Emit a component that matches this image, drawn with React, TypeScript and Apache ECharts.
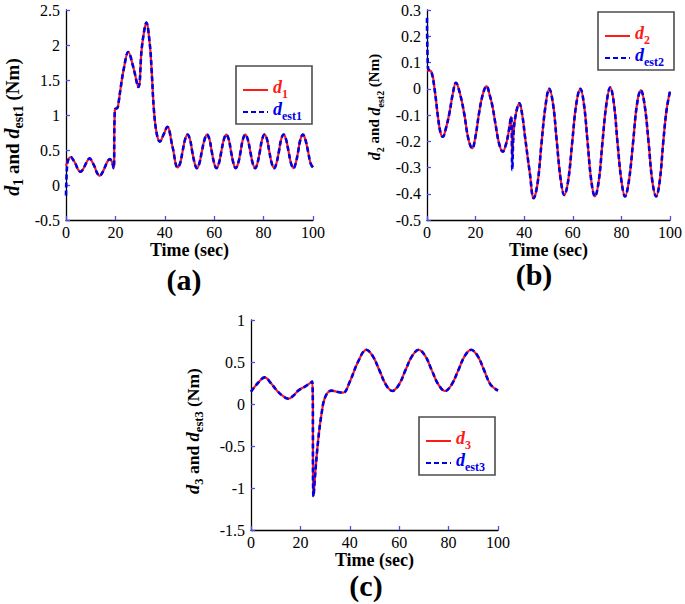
import React, { useEffect, useRef } from 'react';
import * as echarts from 'echarts';

// ---------- data ----------
// (a)
const timeA = [0, 1, 1.9, 2.9, 3.9, 4.9, 5.9, 6.8, 7.7, 8.7, 9.6, 10.6, 11.6, 12.6, 13.6, 14.6, 15.7, 16.7, 17.7, 18.6, 19.3, 19.8, 20.8, 21.3, 22.1, 23.5, 25.2, 27.2, 29.3, 30.6, 31.6, 32.5, 33.9, 34.7, 35.6, 36.7, 38.0, 39.5, 41.0, 43.1, 45.2, 46.2, 47.2, 48.2, 49.2, 50.2, 51.1, 52.1, 53.0, 54.0, 55.0, 56.1, 57.1, 58.1, 59.0, 60.0, 60.9, 61.9, 62.9, 63.9, 64.9, 65.9, 66.8, 67.8, 68.7, 69.7, 70.7, 71.6, 72.6, 73.6, 74.6, 75.6, 76.6, 77.5, 78.5, 79.4, 80.4, 81.4, 82.3, 83.3, 84.3, 85.2, 86.2, 87.1, 88.1, 89.1, 90.1, 91.1, 92.1, 93.0, 94.0, 94.9, 95.9, 96.9, 98.0, 99.0, 100];
const d1 = [0.27, 0.37, 0.40, 0.36, 0.30, 0.22, 0.19, 0.22, 0.28, 0.35, 0.38, 0.33, 0.26, 0.17, 0.13, 0.17, 0.25, 0.33, 0.37, 0.33, 0.24, 1.08, 1.10, 1.18, 1.38, 1.68, 1.90, 1.69, 1.40, 1.93, 2.19, 2.32, 2.02, 1.62, 1.07, 0.74, 0.62, 0.72, 0.83, 0.55, 0.25, 0.31, 0.48, 0.65, 0.72, 0.65, 0.48, 0.31, 0.24, 0.31, 0.48, 0.65, 0.72, 0.65, 0.48, 0.31, 0.24, 0.31, 0.48, 0.65, 0.72, 0.65, 0.48, 0.31, 0.24, 0.31, 0.48, 0.65, 0.72, 0.65, 0.48, 0.31, 0.24, 0.31, 0.48, 0.65, 0.72, 0.65, 0.48, 0.31, 0.24, 0.31, 0.48, 0.65, 0.72, 0.65, 0.48, 0.31, 0.24, 0.31, 0.48, 0.65, 0.72, 0.65, 0.48, 0.31, 0.25];
const timeEst1 = [0, 0.4, 1, 1.9, 2.9, 3.9, 4.9, 5.9, 6.8, 7.7, 8.7, 9.6, 10.6, 11.6, 12.6, 13.6, 14.6, 15.7, 16.7, 17.7, 18.6, 19.3, 19.8, 20.8, 21.3, 22.1, 23.5, 25.2, 27.2, 29.3, 30.6, 31.6, 32.5, 33.9, 34.7, 35.6, 36.7, 38.0, 39.5, 41.0, 43.1, 45.2, 46.2, 47.2, 48.2, 49.2, 50.2, 51.1, 52.1, 53.0, 54.0, 55.0, 56.1, 57.1, 58.1, 59.0, 60.0, 60.9, 61.9, 62.9, 63.9, 64.9, 65.9, 66.8, 67.8, 68.7, 69.7, 70.7, 71.6, 72.6, 73.6, 74.6, 75.6, 76.6, 77.5, 78.5, 79.4, 80.4, 81.4, 82.3, 83.3, 84.3, 85.2, 86.2, 87.1, 88.1, 89.1, 90.1, 91.1, 92.1, 93.0, 94.0, 94.9, 95.9, 96.9, 98.0, 99.0, 100];
const dEst1 = [-0.15, 0.25, 0.37, 0.40, 0.36, 0.30, 0.22, 0.19, 0.22, 0.28, 0.35, 0.38, 0.33, 0.26, 0.17, 0.13, 0.17, 0.25, 0.33, 0.37, 0.33, 0.24, 1.08, 1.10, 1.18, 1.38, 1.68, 1.90, 1.69, 1.40, 1.93, 2.19, 2.32, 2.02, 1.62, 1.07, 0.74, 0.62, 0.72, 0.83, 0.55, 0.25, 0.31, 0.48, 0.65, 0.72, 0.65, 0.48, 0.31, 0.24, 0.31, 0.48, 0.65, 0.72, 0.65, 0.48, 0.31, 0.24, 0.31, 0.48, 0.65, 0.72, 0.65, 0.48, 0.31, 0.24, 0.31, 0.48, 0.65, 0.72, 0.65, 0.48, 0.31, 0.24, 0.31, 0.48, 0.65, 0.72, 0.65, 0.48, 0.31, 0.24, 0.31, 0.48, 0.65, 0.72, 0.65, 0.48, 0.31, 0.24, 0.31, 0.48, 0.65, 0.72, 0.65, 0.48, 0.31, 0.25];

// (b)
const timeB = [0, 1.8, 3.1, 4.5, 5.5, 6.5, 7.8, 9.2, 10.6, 11.9, 13.6, 15.3, 17.0, 18.6, 20.0, 21.4, 23.0, 24.5, 25.8, 27.0, 28.1, 29.7, 31.2, 32.4, 33.5, 34.6, 35.1, 35.6, 36.5, 38.0, 39.2, 40.3, 42.3, 43.9, 45.5, 47.1, 48.7, 50.3, 51.9, 53.4, 55.0, 56.5, 58.1, 59.8, 61.4, 63.1, 64.6, 66.1, 67.6, 69.1, 70.7, 72.2, 73.8, 75.4, 76.9, 78.4, 80.0, 81.5, 83.1, 84.8, 86.4, 88.0, 89.6, 91.2, 92.7, 94.3, 95.8, 97.2, 98.6, 100];
const d2 = [0.07, 0.065, 0.0, -0.106, -0.165, -0.183, -0.15, -0.094, -0.02, 0.023, -0.02, -0.094, -0.19, -0.227, -0.18, -0.094, -0.02, 0.01, -0.024, -0.07, -0.13, -0.21, -0.24, -0.215, -0.17, -0.106, -0.26, -0.17, -0.10, -0.055, -0.10, -0.18, -0.32, -0.417, -0.36, -0.21, -0.07, 0.0, -0.06, -0.2, -0.345, -0.405, -0.35, -0.2, -0.06, 0.0, -0.06, -0.205, -0.35, -0.41, -0.35, -0.205, -0.06, 0.005, -0.055, -0.205, -0.35, -0.41, -0.35, -0.205, -0.06, -0.005, -0.065, -0.205, -0.35, -0.41, -0.35, -0.205, -0.08, -0.01];
const timeEst2 = [0, 0.4, 1.0, 1.8, 3.1, 4.5, 5.5, 6.5, 7.8, 9.2, 10.6, 11.9, 13.6, 15.3, 17.0, 18.6, 20.0, 21.4, 23.0, 24.5, 25.8, 27.0, 28.1, 29.7, 31.2, 32.4, 33.5, 34.6, 35.1, 35.6, 36.5, 38.0, 39.2, 40.3, 42.3, 43.9, 45.5, 47.1, 48.7, 50.3, 51.9, 53.4, 55.0, 56.5, 58.1, 59.8, 61.4, 63.1, 64.6, 66.1, 67.6, 69.1, 70.7, 72.2, 73.8, 75.4, 76.9, 78.4, 80.0, 81.5, 83.1, 84.8, 86.4, 88.0, 89.6, 91.2, 92.7, 94.3, 95.8, 97.2, 98.6, 100];
const dEst2 = [0.27, 0.08, 0.07, 0.065, 0.0, -0.106, -0.165, -0.183, -0.15, -0.094, -0.02, 0.023, -0.02, -0.094, -0.19, -0.227, -0.18, -0.094, -0.02, 0.01, -0.024, -0.07, -0.13, -0.21, -0.24, -0.215, -0.17, -0.106, -0.31, -0.17, -0.10, -0.055, -0.10, -0.18, -0.32, -0.417, -0.36, -0.21, -0.07, 0.0, -0.06, -0.2, -0.345, -0.405, -0.35, -0.2, -0.06, 0.0, -0.06, -0.205, -0.35, -0.41, -0.35, -0.205, -0.06, 0.005, -0.055, -0.205, -0.35, -0.41, -0.35, -0.205, -0.06, -0.005, -0.065, -0.205, -0.35, -0.41, -0.35, -0.205, -0.08, -0.01];

// (c)
const timeC = [0, 2.8, 5.6, 8.0, 10.3, 12.7, 15.1, 17.2, 19.1, 22.0, 24.8, 25.3, 26.1, 27.2, 28.5, 30.1, 32.6, 34.6, 37.3, 40.0, 43.3, 46.7, 49.3, 52.0, 54.6, 57.2, 59.9, 62.5, 65.2, 67.9, 70.6, 73.2, 75.9, 78.6, 81.2, 83.9, 86.5, 89.1, 91.8, 94.4, 97.0, 100];
const d3 = [0.146, 0.25, 0.317, 0.25, 0.167, 0.10, 0.063, 0.10, 0.159, 0.21, 0.266, -1.10, -0.79, -0.43, -0.13, 0.087, 0.159, 0.146, 0.135, 0.266, 0.50, 0.645, 0.57, 0.40, 0.23, 0.155, 0.23, 0.40, 0.57, 0.645, 0.57, 0.40, 0.23, 0.155, 0.23, 0.40, 0.57, 0.645, 0.57, 0.40, 0.23, 0.16];
const timeEst3 = [0, 2.8, 5.6, 8.0, 10.3, 12.7, 15.1, 17.2, 19.1, 22.0, 24.8, 25.3, 26.1, 27.2, 28.5, 30.1, 32.6, 34.6, 37.3, 40.0, 43.3, 46.7, 49.3, 52.0, 54.6, 57.2, 59.9, 62.5, 65.2, 67.9, 70.6, 73.2, 75.9, 78.6, 81.2, 83.9, 86.5, 89.1, 91.8, 94.4, 97.0, 100];
const dEst3 = [0.146, 0.25, 0.317, 0.25, 0.167, 0.10, 0.063, 0.10, 0.159, 0.21, 0.266, -1.10, -0.79, -0.43, -0.13, 0.087, 0.159, 0.146, 0.135, 0.266, 0.50, 0.645, 0.57, 0.40, 0.23, 0.155, 0.23, 0.40, 0.57, 0.645, 0.57, 0.40, 0.23, 0.155, 0.23, 0.40, 0.57, 0.645, 0.57, 0.40, 0.23, 0.16];

// axis ranges
const xRange = { min: 0, max: 100, interval: 20 };
const yRangeA = { min: -0.5, max: 2.5, interval: 0.5 };
const yRangeB = { min: -0.5, max: 0.3, interval: 0.1 };
const yRangeC = { min: -1.5, max: 1, interval: 0.5 };

const panelLetters = ['(a)', '(b)', '(c)'];
const xTitle = 'Time (sec)';

// ---------- styling ----------
const SERIF = '"Liberation Serif", "Times New Roman", serif';
const RED = '#ff1a1a';
const BLUE = '#0000e6';
const TICK = '#4a4aff';

const pairs = (t: number[], v: number[]) => t.map((x, i) => [x, v[i]]);

const xAxisCfg = (gridIndex: number) => ({
  type: 'value',
  gridIndex,
  ...xRange,
  name: xTitle,
  nameLocation: 'middle',
  nameGap: 19,
  nameTextStyle: { fontFamily: SERIF, fontSize: 18, fontWeight: 'bold', color: '#000' },
  axisLine: { show: true, onZero: false, lineStyle: { color: '#000', width: 1.3 } },
  axisTick: { show: true, inside: true, length: 4, lineStyle: { color: TICK, width: 1.3 } },
  axisLabel: { color: '#000', fontFamily: SERIF, fontSize: 16, margin: 4 },
  splitLine: { show: false },
});

const yAxisCfg = (gridIndex: number, range: any) => ({
  type: 'value',
  gridIndex,
  ...range,
  axisLine: { show: true, onZero: false, lineStyle: { color: '#000', width: 1.3 } },
  axisTick: { show: true, inside: true, length: 4, lineStyle: { color: TICK, width: 1.3 } },
  axisLabel: { color: '#000', fontFamily: SERIF, fontSize: 16, margin: 6 },
  splitLine: { show: false },
});

const lineSeries = (name: string, idx: number, data: number[][], est: boolean) => ({
  name,
  type: 'line',
  xAxisIndex: idx,
  yAxisIndex: idx,
  data,
  symbol: 'none',
  showSymbol: false,
  smooth: 0.4,
  z: est ? 3 : 2,
  lineStyle: est ? { color: BLUE, width: 2.6, type: [5, 3] } : { color: RED, width: 2.2, type: 'solid' },
  itemStyle: { color: est ? BLUE : RED },
});

const legendRich = {
  rd: { color: RED, fontFamily: SERIF, fontSize: 18, fontStyle: 'italic', fontWeight: 'bold', padding: [0, 0, 6, 0] },
  rs: { color: RED, fontFamily: SERIF, fontSize: 12, fontWeight: 'bold', padding: [8, 0, 0, 0] },
  bd: { color: BLUE, fontFamily: SERIF, fontSize: 18, fontStyle: 'italic', fontWeight: 'bold', padding: [0, 0, 6, 0] },
  bs: { color: BLUE, fontFamily: SERIF, fontSize: 12, fontWeight: 'bold', padding: [8, 0, 0, 0] },
};
const legendLabels: Record<string, string> = {
  d1: '{rd|d}{rs|1}',
  dest1: '{bd|d}{bs|est1}',
  d2: '{rd|d}{rs|2}',
  dest2: '{bd|d}{bs|est2}',
  d3: '{rd|d}{rs|3}',
  dest3: '{bd|d}{bs|est3}',
};

const legendCfg = (names: string[], left: number, top: number) => ({
  data: names,
  left,
  top,
  orient: 'vertical',
  itemWidth: 25,
  itemHeight: 14,
  itemGap: 0,
  padding: [12, 10, 2, 6],
  borderColor: '#4d4d4d',
  borderWidth: 1.6,
  backgroundColor: '#fff',
  selectedMode: false,
  itemStyle: { color: 'rgba(0,0,0,0)', borderWidth: 0, opacity: 0 },
  formatter: (n: string) => legendLabels[n],
  textStyle: { fontFamily: SERIF, rich: legendRich },
});

const yTitle = (x: number, y: number, k: string, size: number, sub: number) => ({
  type: 'text',
  x,
  y,
  rotation: Math.PI / 2,
  style: {
    text: `{d|d}{s|${k}}{t| and }{d|d}{s|est${k}}{t| (Nm)}`,
    align: 'center',
    verticalAlign: 'middle',
    fill: '#000',
    fontFamily: SERIF,
    rich: {
      d: { fontFamily: SERIF, fontSize: size + 1, fontStyle: 'italic', fontWeight: 'bold', color: '#000' },
      s: { fontFamily: SERIF, fontSize: sub, fontWeight: 'bold', color: '#000', padding: [12, 0, 0, 0] },
      t: { fontFamily: SERIF, fontSize: size, fontWeight: 'bold', color: '#000' },
    },
  },
});

const panelLabel = (x: number, y: number, text: string) => ({
  type: 'text',
  x,
  y,
  style: {
    text,
    align: 'center',
    verticalAlign: 'middle',
    fontFamily: SERIF,
    fontSize: 30,
    fontWeight: 'bold',
    fill: '#000',
  },
});

export default function App() {
  const ref = useRef<HTMLDivElement>(null);
  useEffect(() => {
    if (!ref.current) return;
    const chart = echarts.init(ref.current, null, { renderer: 'svg' });
    chart.setOption({
      animation: false,
      backgroundColor: '#fff',
      textStyle: { fontFamily: SERIF },
      grid: [
        { left: 66, top: 10, width: 247, height: 210 },
        { left: 427, top: 10, width: 247, height: 210 },
        { left: 251, top: 320, width: 247, height: 210 },
      ],
      xAxis: [xAxisCfg(0), xAxisCfg(1), xAxisCfg(2)],
      yAxis: [yAxisCfg(0, yRangeA), yAxisCfg(1, yRangeB), yAxisCfg(2, yRangeC)],
      legend: [
        legendCfg(['d1', 'dest1'], 236, 66),
        legendCfg(['d2', 'dest2'], 598, 12),
        legendCfg(['d3', 'dest3'], 419, 417),
      ],
      series: [
        lineSeries('d1', 0, pairs(timeA, d1), false),
        lineSeries('dest1', 0, pairs(timeEst1, dEst1), true),
        lineSeries('d2', 1, pairs(timeB, d2), false),
        lineSeries('dest2', 1, pairs(timeEst2, dEst2), true),
        lineSeries('d3', 2, pairs(timeC, d3), false),
        lineSeries('dest3', 2, pairs(timeEst3, dEst3), true),
      ],
      graphic: [
        yTitle(12, 127, '1', 19, 14),
        yTitle(374, 107, '2', 15, 10),
        yTitle(193, 431, '3', 17.5, 12.5),
        panelLabel(184, 279, panelLetters[0]),
        panelLabel(534, 274, panelLetters[1]),
        panelLabel(366, 585, panelLetters[2]),
      ],
    });
    return () => chart.dispose();
  }, []);
  return (
    <div
      ref={ref}
      style={{ position: 'fixed', left: 0, top: 0, width: 685, height: 604, background: '#fff' }}
    />
  );
}
